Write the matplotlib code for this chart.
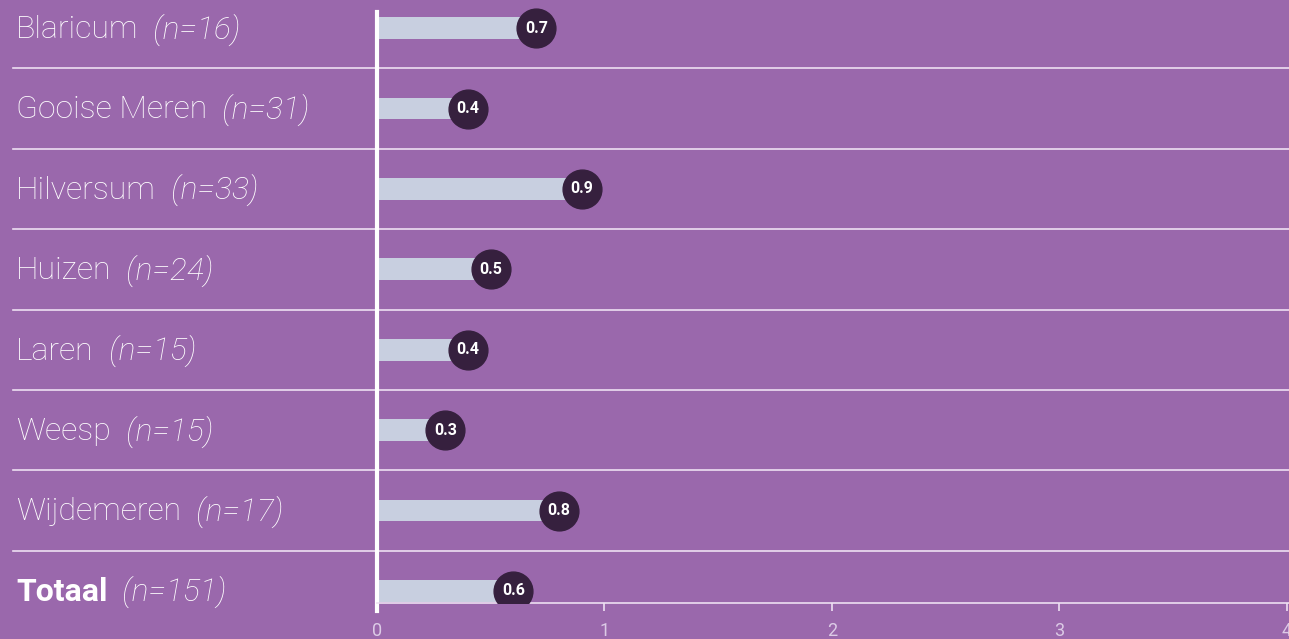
import matplotlib
matplotlib.use('Agg')
import matplotlib.pyplot as plt

# data
names = ['Blaricum', 'Gooise Meren', 'Hilversum', 'Huizen', 'Laren', 'Weesp', 'Wijdemeren', 'Totaal']
counts = [16, 31, 33, 24, 15, 15, 17, 151]
values = [0.7, 0.4, 0.9, 0.5, 0.4, 0.3, 0.8, 0.6]
ticks = [0, 1, 2, 3, 4]

bg = '#9a68ac'
bar_col = '#c8cfe0'
dot_col = '#36203e'
tick_col = '#dccbe6'

plt.rcParams['font.family'] = ['Roboto', 'DejaVu Sans']

fig = plt.figure(figsize=(12.89, 6.39), dpi=100, facecolor=bg)
ax = fig.add_axes([377 / 1289, 36 / 639, 1 - 377 / 1289, 1 - 36 / 639])
ax.set_facecolor(bg)

n = len(names)
ypos = list(range(n))
ax.set_xlim(0, 4.01)
ax.set_ylim(n - 1 + 0.15, -0.35)

ax.barh(ypos, values, height=0.27, color=bar_col, zorder=2)
ax.scatter(values, ypos, s=780, color=dot_col, zorder=3)
for y, v in zip(ypos, values):
    ax.text(v, y, '%.1f' % v, color='white', fontsize=11.5, fontweight='bold',
            ha='center', va='center', zorder=4)

# separators between rows
for i in range(n - 1):
    ax.plot([-1.6, 4.01], [i + 0.5, i + 0.5], color='#eee0f2', lw=1.2,
            clip_on=False, zorder=1)

# row labels
for y, nm, c in zip(ypos, names, counts):
    bold = nm == 'Totaal'
    t = ax.annotate(nm, xy=(-1.6, y), xycoords='data', xytext=(2, -1),
                    textcoords='offset points', color='white', fontsize=23,
                    fontweight='bold' if bold else 'light', va='center',
                    ha='left', annotation_clip=False)
    ax.annotate('  (n=%d)' % c, xycoords=t, xy=(1, 0.5), va='center', ha='left',
                color='white', fontsize=23, fontstyle='italic', fontweight='light',
                annotation_clip=False)

for s in ['top', 'right']:
    ax.spines[s].set_visible(False)
ax.spines['left'].set_color('white')
ax.spines['left'].set_linewidth(3)
ax.spines['left'].set_bounds(n - 1 + 0.25, -0.2)
ax.spines['bottom'].set_color('#eee0f2')
ax.spines['bottom'].set_linewidth(1.2)

ax.set_yticks([])
ax.set_xticks(ticks)
ax.set_xticklabels([str(t) for t in ticks])
ax.tick_params(axis='x', colors='#eee0f2', length=6, width=1.2, labelsize=13,
               labelcolor=tick_col, pad=8)

fig.savefig('out.png', dpi=100, facecolor=bg)
